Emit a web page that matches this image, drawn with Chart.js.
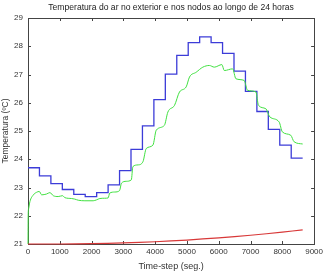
<!DOCTYPE html>
<html>
<head>
<meta charset="utf-8">
<script src="https://cdn.jsdelivr.net/npm/chart.js@4"></script>
<style>
  html, body { margin: 0; padding: 0; background: #fff; }
  #wrap { width: 326px; height: 273px; }
</style>
</head>
<body>
<div id="wrap"><canvas id="tempChart" width="326" height="273"></canvas></div>
<script>
// Axis ticks
const xTicks = [0, 1000, 2000, 3000, 4000, 5000, 6000, 7000, 8000, 9000];
const yTicks = [21, 22, 23, 24, 25, 26, 27, 28, 29];

// Outside air temperature (hourly steps, 360 s per hour)
const stepTimes = [0, 360, 720, 1080, 1440, 1800, 2160, 2520, 2880, 3240, 3600, 3960,
                   4320, 4680, 5040, 5400, 5760, 6120, 6480, 6840, 7200, 7560, 7920, 8280, 8640];
const outsideTemps = [23.70, 23.41, 23.14, 22.93, 22.76, 22.68, 22.82, 23.09, 23.60, 24.35, 25.18, 26.11,
                      27.01, 27.68, 28.13, 28.33, 28.13, 27.75, 27.12, 26.40, 25.69, 25.06, 24.50, 24.04, 24.04];

// Node temperature (green)
const nodeTimes = [0, 5, 20, 60, 170, 270, 355, 430, 585, 690, 795, 950, 1087, 1160, 1370, 1470, 1580,
                   1790, 2050, 2150, 2260, 2410, 2520, 2570, 2730, 2880, 2940, 3090, 3250, 3300, 3460,
                   3615, 3720, 3930, 4035, 4290, 4400, 4610, 4765, 4975, 5080, 5290, 5500, 5705, 5860,
                   6100, 6175, 6437, 6540, 6800, 6907, 7170, 7250, 7480, 7607, 7900, 8000, 8265, 8370, 8640];
const nodeTemps = [21.0, 22.0, 22.25, 22.5, 22.74, 22.83, 22.86, 22.74, 22.77, 22.82, 22.71, 22.68, 22.71, 22.64, 22.61, 22.59, 22.55,
                   22.53, 22.53, 22.56, 22.61, 22.62, 22.63, 22.80, 22.84, 22.89, 23.15, 23.22, 23.27, 23.74, 23.80,
                   23.91, 24.38, 24.50, 25.03, 25.20, 25.67, 25.91, 26.38, 26.56, 26.91, 27.08, 27.26, 27.32, 27.26,
                   27.35, 27.14, 27.20, 26.85, 26.79, 26.44, 26.38, 25.91, 25.79, 25.50, 25.32, 24.97, 24.85, 24.62, 24.54];

// Second node (red)
const slowTimes = [0, 1000, 2000, 3000, 4000, 5000, 6000, 7000, 8000, 8640];
const slowTemps = [21.0, 21.0, 21.01, 21.04, 21.08, 21.14, 21.22, 21.31, 21.42, 21.50];

const FONT = "'Liberation Sans', Arial, sans-serif";
const TITLE = 'Temperatura do ar no exterior e nos nodos ao longo de 24 horas';
const X_TITLE = 'Time-step (seg.)';
const Y_TITLE = 'Temperatura (ºC)';

function toPoints(xs, ys) {
    return xs.map((x, i) => ({ x: x, y: ys[i] }));
}

// Box around the plot with MATLAB-style inward ticks on all four sides, plus titles.
// Drawn before the lines so the curves sit on top of the axes, as in the original.
const boxTicks = {
    id: 'boxTicks',
    beforeDatasetsDraw(chart) {
        const { ctx, chartArea: a, scales } = chart;
        ctx.save();
        ctx.strokeStyle = '#444';
        ctx.lineWidth = 1;
        ctx.beginPath();
        xTicks.forEach(v => {
            const px = Math.round(scales.x.getPixelForValue(v)) + 0.5;
            ctx.moveTo(px, a.bottom); ctx.lineTo(px, a.bottom - 3);
            ctx.moveTo(px, a.top); ctx.lineTo(px, a.top + 3);
        });
        yTicks.forEach(v => {
            const py = Math.round(scales.y.getPixelForValue(v)) + 0.5;
            ctx.moveTo(a.left, py); ctx.lineTo(a.left + 3, py);
            ctx.moveTo(a.right, py); ctx.lineTo(a.right - 3, py);
        });
        ctx.stroke();
        ctx.strokeRect(Math.round(a.left) + 0.5, Math.round(a.top) + 0.5,
                       Math.round(a.right - a.left), Math.round(a.bottom - a.top));

        // titles, centred on the plot box
        const cx = (a.left + a.right) / 2;
        ctx.textAlign = 'center';
        ctx.textBaseline = 'middle';
        ctx.fillStyle = '#222';
        ctx.font = '8.6px ' + FONT;
        ctx.fillText(TITLE, cx, 7.5);
        ctx.fillStyle = '#333';
        ctx.font = '9px ' + FONT;
        ctx.fillText(X_TITLE, cx, 266.5);
        ctx.translate(5.5, (a.top + a.bottom) / 2);
        ctx.rotate(-Math.PI / 2);
        ctx.font = '8.5px ' + FONT;
        ctx.fillText(Y_TITLE, 0, 0);
        ctx.restore();
    }
};

new Chart(document.getElementById('tempChart').getContext('2d'), {
    type: 'line',
    data: {
        datasets: [
            { data: toPoints(slowTimes, slowTemps), borderColor: '#d83838', borderWidth: 1.2, pointRadius: 0, tension: 0.3, clip: 3 },
            { data: toPoints(nodeTimes, nodeTemps), borderColor: '#40e040', borderWidth: 1, pointRadius: 0, cubicInterpolationMode: 'monotone', clip: 3 },
            { data: toPoints(stepTimes, outsideTemps), borderColor: '#3c3cd8', borderWidth: 1.3, pointRadius: 0, stepped: 'before', clip: 3 }
        ]
    },
    plugins: [boxTicks],
    options: {
        responsive: false,
        animation: false,
        layout: { padding: { left: 0, right: 10, top: 18, bottom: 0 } },
        plugins: {
            legend: { display: false },
            tooltip: { enabled: false },
            title: { display: false }
        },
        scales: {
            x: {
                type: 'linear', min: 0, max: 9000,
                afterBuildTicks: s => { s.ticks = xTicks.map(v => ({ value: v })); },
                afterFit: s => { s.height = 29; },
                grid: { display: false, drawTicks: false }, border: { display: false },
                ticks: { color: '#333', font: { family: FONT, size: 8 }, padding: 3, maxRotation: 0,
                         callback: v => String(v) }
            },
            y: {
                min: 21, max: 29,
                afterBuildTicks: s => { s.ticks = yTicks.map(v => ({ value: v })); },
                afterFit: s => { s.width = 28; },
                grid: { display: false, drawTicks: false }, border: { display: false },
                ticks: { color: '#333', font: { family: FONT, size: 8 }, padding: 5,
                         callback: v => String(v) }
            }
        }
    }
});
</script>
</body>
</html>
